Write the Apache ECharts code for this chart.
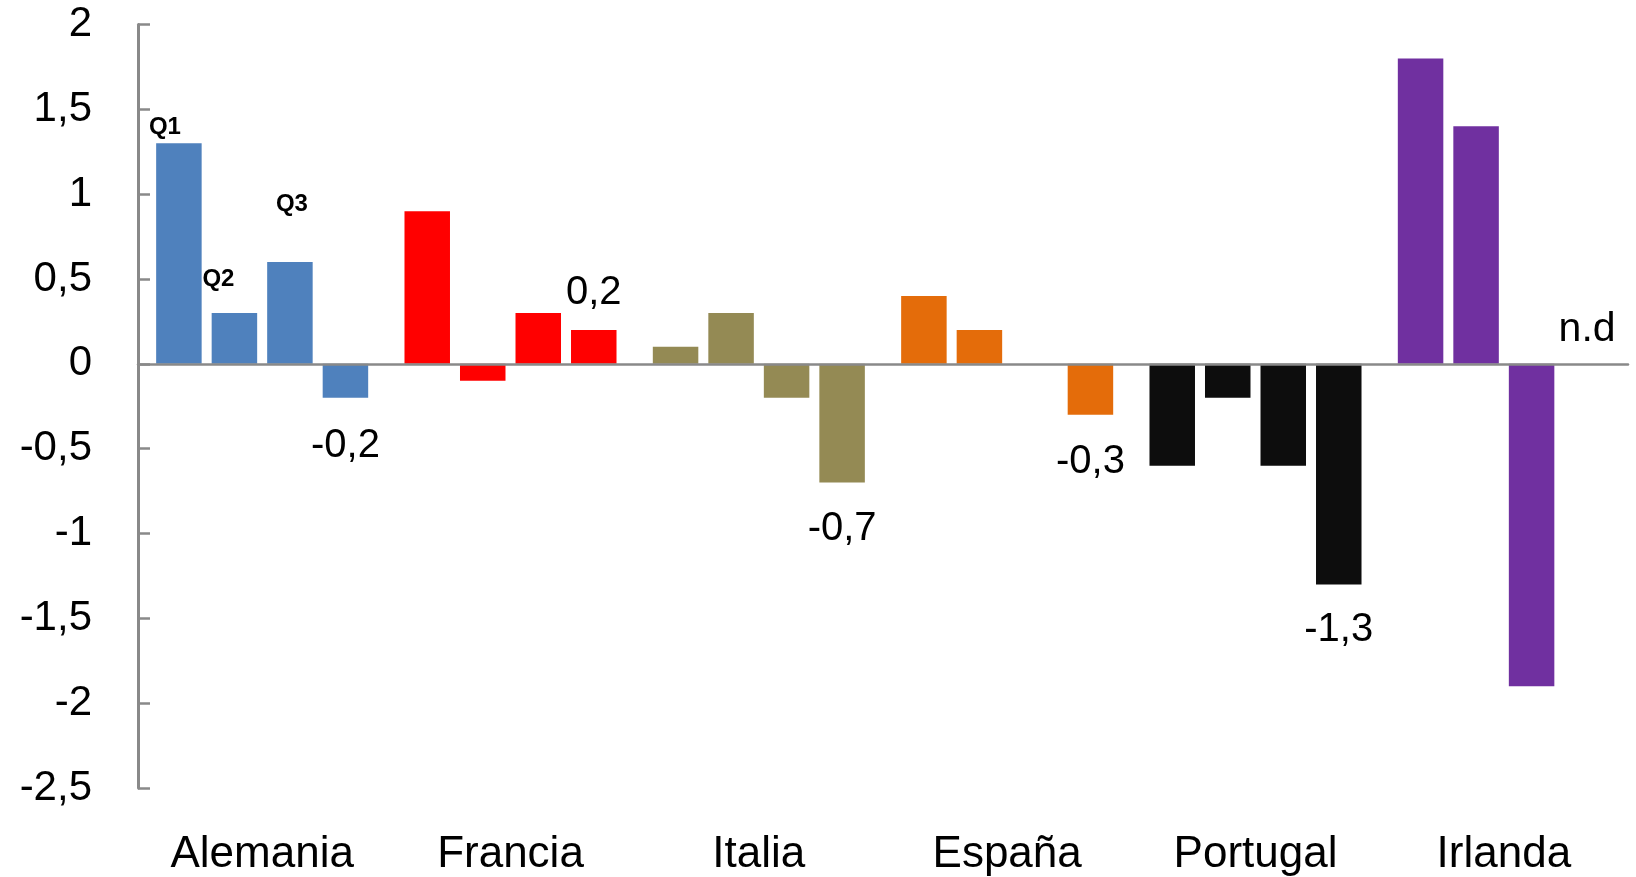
<!DOCTYPE html>
<html>
<head>
<meta charset="utf-8">
<script src="https://cdn.jsdelivr.net/npm/echarts@6/dist/echarts.min.js"></script>
<style>
  html, body { margin: 0; padding: 0; background: #ffffff; }
  #chart { width: 1636px; height: 877px; }
</style>
</head>
<body>
<div id="chart"></div>
<script>
// Quarterly change by country (Q1..Q4); null = no data ("n.d")
const countries = ['Alemania', 'Francia', 'Italia', 'España', 'Portugal', 'Irlanda'];
const quarters = ['Q1', 'Q2', 'Q3', 'Q4'];
const q1 = [1.3, 0.9, 0.1, 0.4, -0.6, 1.8];
const q2 = [0.3, -0.1, 0.3, 0.2, -0.2, 1.4];
const q3 = [0.6, 0.3, -0.2, 0, -0.6, -1.9];
const q4 = [-0.2, 0.2, -0.7, -0.3, -1.3, null];
const yMin = -2.5;
const yMax = 2;
const yStep = 0.5;

const countryColors = ['#4F81BD', '#FF0000', '#948A54', '#E46C0A', '#0D0D0D', '#7030A0'];
const FONT = "'Liberation Sans', Arial, sans-serif";
const AXIS_GREY = '#898989';

const comma = v => String(v).replace('.', ',');

// Quarter names written next to the first group's bars
const quarterTagStyle = [
  { distance: 4, offset: [-14, 0] },
  { distance: 22, offset: [-16, 0] },
  { distance: 46, offset: [2, 0] }
];
// Distance of the Q4 value labels from the bar end, per country
const q4LabelDistance = [28, 17, 26, 27, 26, 14];

const values = [q1, q2, q3, q4];

const series = quarters.map((q, qi) => ({
  name: q,
  type: 'bar',
  xAxisIndex: 0,
  barWidth: 45.5,
  barGap: '22%',
  data: values[qi].map((v, ci) => {
    const item = {
      value: v === null ? 0 : v,
      itemStyle: { color: countryColors[ci] }
    };
    if (ci === 0 && qi < 3) {
      item.label = {
        show: true,
        position: 'top',
        distance: quarterTagStyle[qi].distance,
        offset: quarterTagStyle[qi].offset,
        formatter: q,
        fontFamily: FONT,
        fontWeight: 'bold',
        fontSize: 24,
        color: '#000'
      };
    }
    if (qi === 3) {
      item.label = {
        show: true,
        position: v === null || v >= 0 ? 'top' : 'bottom',
        distance: q4LabelDistance[ci],
        formatter: v === null ? 'n.d' : comma(v),
        fontFamily: FONT,
        fontSize: v === null ? 41 : 40,
        color: '#000'
      };
    }
    return item;
  })
}));

const chart = echarts.init(document.getElementById('chart'), null, { renderer: 'canvas' });
chart.setOption({
  animation: false,
  backgroundColor: '#ffffff',
  grid: { left: 138, right: 8, top: 24.5, bottom: 89, containLabel: false, outerBoundsMode: 'none' },
  xAxis: [
    {
      // zero line
      type: 'category',
      data: countries,
      position: 'bottom',
      z: 5,
      axisLine: { show: true, onZero: true, lineStyle: { color: AXIS_GREY, width: 2.5 } },
      axisTick: { show: false },
      axisLabel: { show: false },
      splitLine: { show: false }
    },
    {
      // country names along the bottom
      type: 'category',
      data: countries,
      position: 'bottom',
      axisLine: { show: false, onZero: false },
      axisTick: { show: false },
      axisLabel: { show: true, margin: 45, fontFamily: FONT, fontSize: 44, color: '#000' },
      splitLine: { show: false }
    }
  ],
  yAxis: {
    type: 'value',
    min: yMin,
    max: yMax,
    interval: yStep,
    axisLine: { show: true, lineStyle: { color: AXIS_GREY, width: 3 } },
    axisTick: { show: true, inside: true, length: 12, lineStyle: { color: AXIS_GREY, width: 2.5 } },
    axisLabel: { margin: 46, fontFamily: FONT, fontSize: 42, color: '#000', formatter: v => comma(v) },
    splitLine: { show: false }
  },
  series: series
});
</script>
</body>
</html>
